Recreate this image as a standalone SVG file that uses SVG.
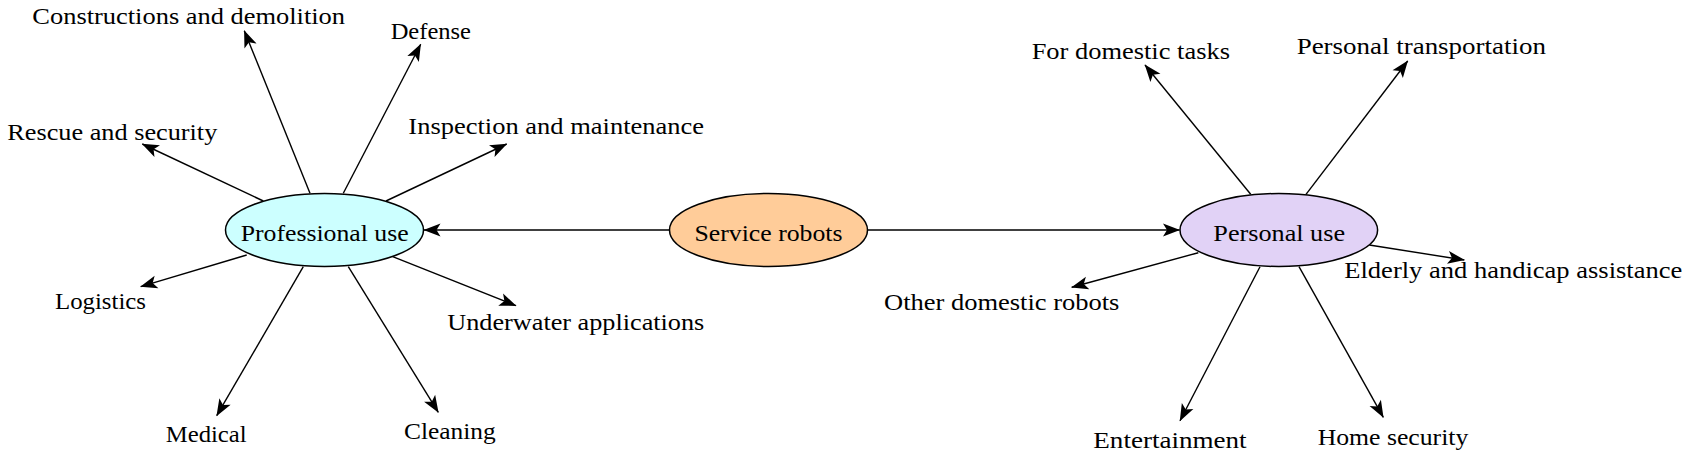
<svg xmlns="http://www.w3.org/2000/svg" width="1695" height="462" viewBox="0 0 1695 462" font-family="'Liberation Serif', 'Times New Roman', serif">
<style>
text{font-size:24px;fill:#000;text-anchor:middle}
.node ellipse{stroke:#000;stroke-width:1.5}
#connectors line{stroke:#000;stroke-width:1.4;fill:none;marker-end:url(#arr)}
</style>
<defs>
<marker id="arr" markerUnits="userSpaceOnUse" viewBox="-18 -8 19 16" refX="0" refY="0" markerWidth="19" markerHeight="16" orient="auto">
<path d="M0.5,0 L-16.5,-6.5 L-12.5,0 L-16.5,6.5 Z" fill="#000"/>
</marker>
</defs>
<rect width="1695" height="462" fill="#fff"/>
<g id="connectors">
<line x1="669.3" y1="230" x2="424" y2="230"/>
<line x1="867.7" y1="230" x2="1179.5" y2="230"/>
<line x1="310" y1="193.3" x2="244.3" y2="30.7"/>
<line x1="343.3" y1="193.3" x2="420.7" y2="44.3"/>
<line x1="386" y1="201" x2="506.7" y2="144"/>
<line x1="263.3" y1="201" x2="142.3" y2="144"/>
<line x1="246.7" y1="255" x2="140.7" y2="286.7"/>
<line x1="303.3" y1="266.7" x2="216.7" y2="415.7"/>
<line x1="348.3" y1="266.7" x2="438.3" y2="412.3"/>
<line x1="392.7" y1="256.7" x2="516" y2="305.7"/>
<line x1="1250.7" y1="194.3" x2="1145" y2="65"/>
<line x1="1306" y1="194.3" x2="1407.7" y2="61"/>
<line x1="1369.3" y1="245" x2="1464.3" y2="260"/>
<line x1="1198.3" y1="252.7" x2="1071.7" y2="287.3"/>
<line x1="1260" y1="266.7" x2="1180" y2="420.7"/>
<line x1="1299" y1="266.7" x2="1383.3" y2="417.3"/>
</g>
<g id="service" class="node">
<ellipse cx="768.5" cy="230" rx="99" ry="36.5" fill="#FFCC99"/>
<text x="768.5" y="240.5" textLength="148" lengthAdjust="spacingAndGlyphs">Service robots</text>
</g>
<g id="professional" class="node">
<ellipse cx="324.5" cy="230" rx="99" ry="36.5" fill="#CCFFFF"/>
<text x="324.7" y="240.5" textLength="168" lengthAdjust="spacingAndGlyphs">Professional use</text>
</g>
<g id="personal" class="node">
<ellipse cx="1278.8" cy="230" rx="98.8" ry="36.5" fill="#E1D2F6"/>
<text x="1279.2" y="240.5" textLength="131.7" lengthAdjust="spacingAndGlyphs">Personal use</text>
</g>
<g id="constructions" class="node"><text x="188.7" y="23.5" textLength="312.7" lengthAdjust="spacingAndGlyphs">Constructions and demolition</text></g>
<g id="defense" class="node"><text x="430.8" y="38.5" textLength="80.3" lengthAdjust="spacingAndGlyphs">Defense</text></g>
<g id="inspection" class="node"><text x="556.2" y="133.5" textLength="295.7" lengthAdjust="spacingAndGlyphs">Inspection and maintenance</text></g>
<g id="rescue" class="node"><text x="112.3" y="139.7" textLength="210" lengthAdjust="spacingAndGlyphs">Rescue and security</text></g>
<g id="logistics" class="node"><text x="100.5" y="309" textLength="91" lengthAdjust="spacingAndGlyphs">Logistics</text></g>
<g id="medical" class="node"><text x="206.2" y="442.3" textLength="81" lengthAdjust="spacingAndGlyphs">Medical</text></g>
<g id="cleaning" class="node"><text x="449.8" y="439" textLength="91.7" lengthAdjust="spacingAndGlyphs">Cleaning</text></g>
<g id="underwater" class="node"><text x="575.8" y="330" textLength="257" lengthAdjust="spacingAndGlyphs">Underwater applications</text></g>
<g id="domestic" class="node"><text x="1130.8" y="59" textLength="198.3" lengthAdjust="spacingAndGlyphs">For domestic tasks</text></g>
<g id="transportation" class="node"><text x="1421.3" y="53.8" textLength="249.3" lengthAdjust="spacingAndGlyphs">Personal transportation</text></g>
<g id="elderly" class="node"><text x="1513.3" y="277.7" textLength="338" lengthAdjust="spacingAndGlyphs">Elderly and handicap assistance</text></g>
<g id="otherdomestic" class="node"><text x="1001.7" y="310" textLength="235.3" lengthAdjust="spacingAndGlyphs">Other domestic robots</text></g>
<g id="entertainment" class="node"><text x="1170" y="448.3" textLength="153.3" lengthAdjust="spacingAndGlyphs">Entertainment</text></g>
<g id="homesecurity" class="node"><text x="1393" y="445" textLength="150.7" lengthAdjust="spacingAndGlyphs">Home security</text></g>
</svg>
